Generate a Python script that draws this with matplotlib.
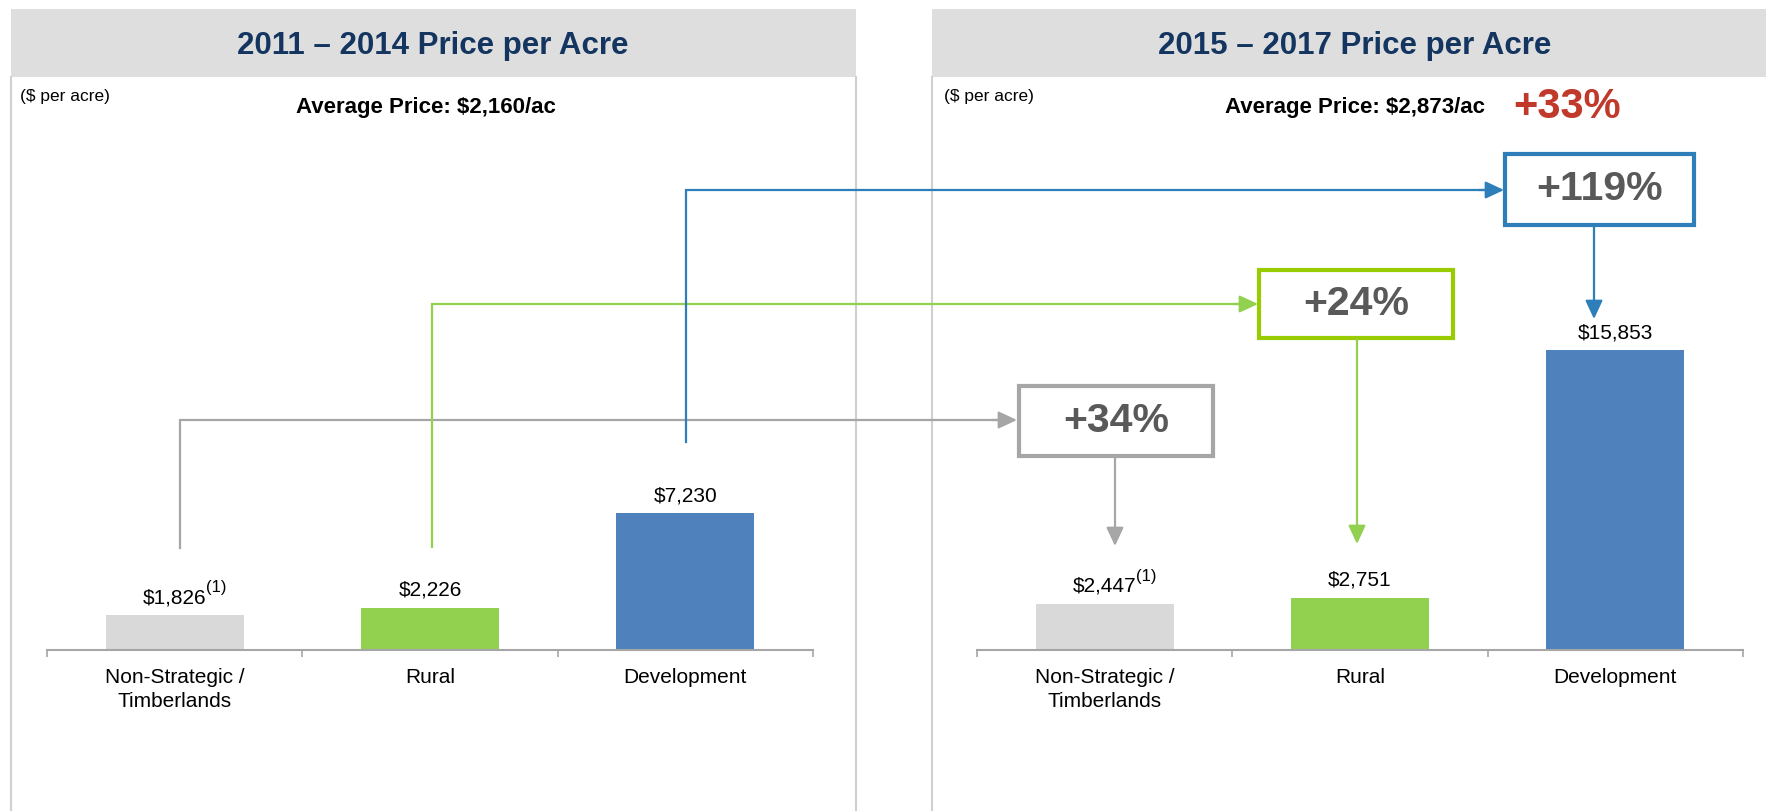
import matplotlib.pyplot as plt
from matplotlib.patches import Rectangle

plt.rcParams['font.family'] = ['Liberation Sans', 'DejaVu Sans']

# price per acre by land type
categories = ['Non-Strategic /\nTimberlands', 'Rural', 'Development']
price_2011_2014 = [1826, 2226, 7230]
price_2015_2017 = [2447, 2751, 15853]
footnoted = [True, False, False]
changes = ['+34%', '+24%', '+119%']
avg_2011_2014 = '$2,160/ac'
avg_2015_2017 = '$2,873/ac'
avg_change = '+33%'

bar_colors = ['#D9D9D9', '#92D050', '#4F81BD']
W, H = 1766, 811

fig = plt.figure(figsize=(W / 100, H / 100), dpi=100)


def px_ax(left, bottom_px, width, height):
    return fig.add_axes([left / W, (H - bottom_px) / H, width / W, height / H])


def bar_panel(ax, values):
    x = range(len(values))
    bars = ax.bar(x, values, width=0.54, color=bar_colors, zorder=2)
    ax.set_xlim(-0.5, 2.5)
    ax.set_ylim(0, 20000)
    for s in ['left', 'right', 'top']:
        ax.spines[s].set_visible(False)
    ax.spines['bottom'].set_color('#A6A6A6')
    ax.spines['bottom'].set_linewidth(1.5)
    ax.set_yticks([])
    ax.set_xticks(list(x))
    ax.set_xticklabels(categories, fontsize=15, linespacing=1.35)
    ax.set_xticks([-0.5, 0.5, 1.5, 2.5], minor=True)
    ax.tick_params(axis='x', which='major', length=0, pad=13)
    ax.tick_params(axis='x', which='minor', length=5, width=1.2, color='#A6A6A6')
    ax.patch.set_alpha(0)
    for b, v, fn in zip(bars, values, footnoted):
        t = ax.annotate(f'${v:,}', (b.get_x() + b.get_width() / 2, v),
                        xytext=(0, 6), textcoords='offset points',
                        ha='center', va='bottom', fontsize=15)
        if fn:
            ax.annotate('(1)', xy=(1, 0.62), xycoords=t, xytext=(-0.5, 0),
                        textcoords='offset points', ha='left', va='bottom',
                        fontsize=12)
    return bars


ax_l = px_ax(47, 650, 766, 378)
ax_r = px_ax(977, 650, 766, 378)
bar_panel(ax_l, price_2011_2014)
bar_panel(ax_r, price_2015_2017)

# overlay in pixel coordinates for panels, headers and arrows
ov = fig.add_axes([0, 0, 1, 1], zorder=5)
ov.set_xlim(0, W)
ov.set_ylim(H, 0)
ov.axis('off')
ov.patch.set_alpha(0)

border = '#D0D0D0'
ov.add_patch(Rectangle((11, 9), 845, 68, facecolor='#DEDEDE', edgecolor='none'))
ov.add_patch(Rectangle((932, 9), 840, 68, facecolor='#DEDEDE', edgecolor='none'))
for xv in [11, 856, 932]:
    ov.plot([xv, xv], [77, H], color=border, lw=1.5)

navy = '#13355F'
ov.text(433, 46, '2011 – 2014 Price per Acre', ha='center', va='center',
        fontsize=22.5, fontweight='bold', color=navy)
ov.text(1355, 46, '2015 – 2017 Price per Acre', ha='center', va='center',
        fontsize=22.5, fontweight='bold', color=navy)
ov.text(20, 97, '($ per acre)', ha='left', va='center', fontsize=12.5)
ov.text(944, 97, '($ per acre)', ha='left', va='center', fontsize=12.5)
ov.text(426, 108, f'Average Price: {avg_2011_2014}', ha='center', va='center',
        fontsize=16, fontweight='bold')
ov.text(1355, 108, f'Average Price: {avg_2015_2017}', ha='center', va='center',
        fontsize=16, fontweight='bold')
ov.text(1567, 107, avg_change, ha='center', va='center', fontsize=30,
        fontweight='bold', color='#C0392B')

# connector arrows: (start x, start y, run y, tip x), box, (down x, down tip y)
connectors = [
    ('#A6A6A6', '#A6A6A6', (180, 548, 420, 1017), (1019, 386, 194, 70), (1115, 546)),
    ('#92D050', '#99CC00', (432, 547, 304, 1258), (1259, 270, 194, 68), (1357, 544)),
    ('#2E7EBA', '#2E7EBA', (686, 442, 190, 1504), (1505, 154, 189, 71), (1594, 319)),
]
head = dict(arrowstyle='-|>,head_length=0.75,head_width=0.35', mutation_scale=15,
            shrinkA=0, shrinkB=0)
for (lc, bc, (x0, y0, yr, xt), (bx, by, bw, bh), (dx, dy)), label in zip(connectors, changes):
    ov.plot([x0, x0, xt - 20], [y0, yr, yr], color=lc, lw=1.6,
            solid_joinstyle='miter')
    ov.annotate('', xy=(xt, yr), xytext=(xt - 25, yr),
                arrowprops=dict(color=lc, lw=1.6, **head))
    ov.add_patch(Rectangle((bx, by), bw, bh, facecolor='white', edgecolor=bc, lw=3))
    ov.text(bx + bw / 2, by + bh / 2, label, ha='center', va='center',
            fontsize=29.5, fontweight='bold', color='#595959')
    ov.annotate('', xy=(dx, dy), xytext=(dx, by + bh + 1.5),
                arrowprops=dict(color=lc, lw=1.6, **head))

fig.savefig('out.png', dpi=100)
